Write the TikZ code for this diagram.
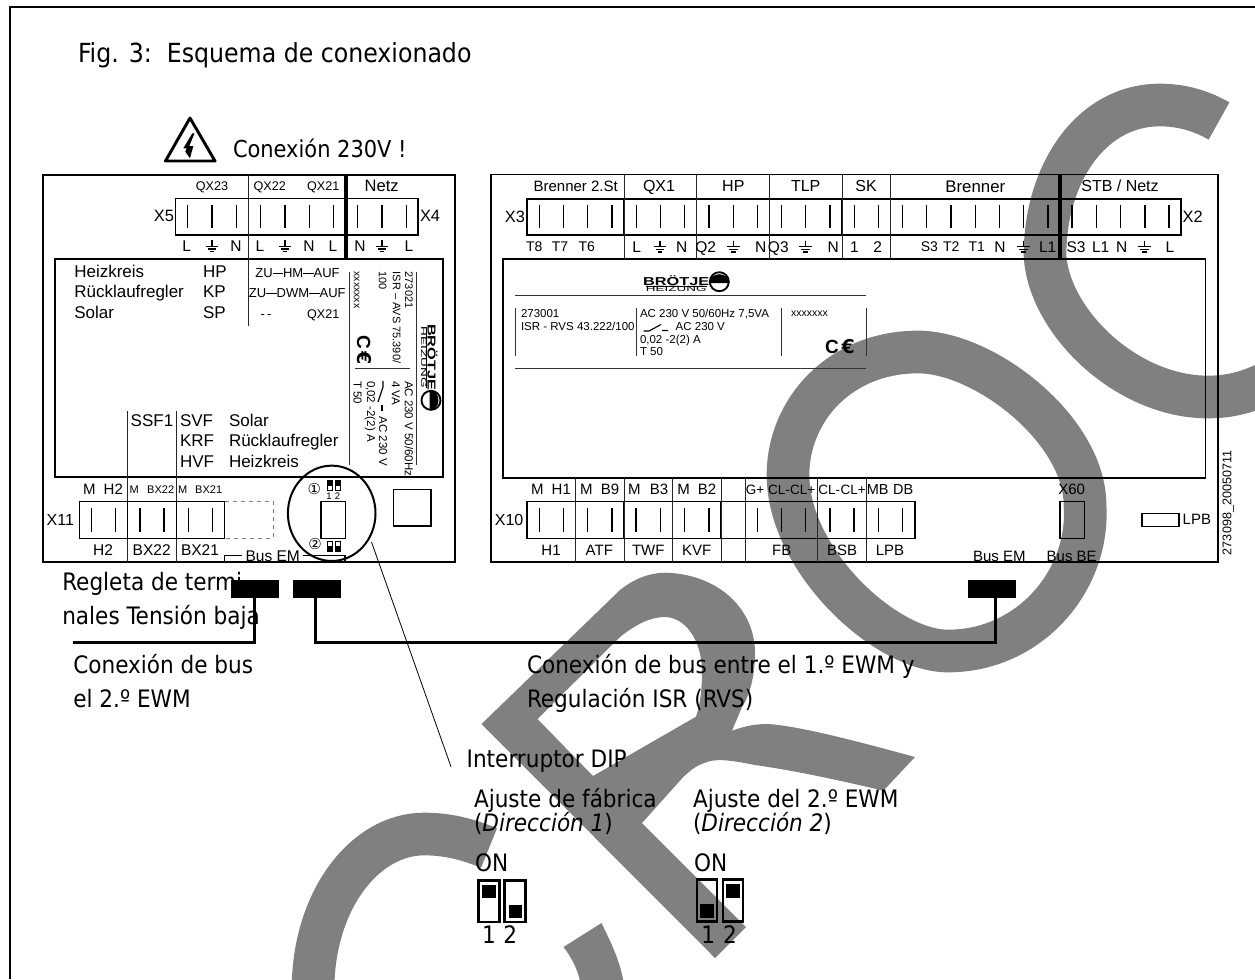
\documentclass[tikz,border=0pt]{standalone}
\usepackage{fontspec}
\usetikzlibrary{shapes.geometric,calc}
\setmainfont{Liberation Sans}
\newfontfamily\bodyf{DejaVu Sans Condensed}
\newfontfamily\symf{DejaVu Sans}
\newcounter{tn}
\newcommand\pxs[1]{\fontsize{\the\dimexpr#1pt*3/4\relax}{\the\dimexpr#1pt*9/10\relax}\selectfont}
% centred label, y = optical centre of the capitals
\newcommand\Tc[4]{\stepcounter{tn}\node[lab,anchor=base] (t\thetn) at ({#1},{#2+0.358*#3}) {\pxs{#3}#4};}
\newcommand\Tl[4]{\stepcounter{tn}\node[lab,anchor=base west] (t\thetn) at ({#1},{#2+0.358*#3}) {\pxs{#3}#4};}
\newcommand\Tr[4]{\stepcounter{tn}\node[lab,anchor=base east] (t\thetn) at ({#1},{#2+0.358*#3}) {\pxs{#3}#4};}
% text running downwards
\newcommand\Tv[4]{\stepcounter{tn}\node[lab,rotate=-90,anchor=west] (t\thetn) at ({#1},{#2}) {\pxs{#3}#4};}
% body font, y = baseline
\newcommand\Bt[4]{\stepcounter{tn}\node[lab,anchor=base west] (t\thetn) at ({#1},{#2}) {\bodyf\pxs{#3}#4};}
\newcommand\gnd[2]{\draw[pin] ({#1},{#2-6}) -- ({#1},{#2});
 \draw[pin] ({#1-6.3},{#2}) -- ({#1+6.3},{#2});
 \draw[pin] ({#1-4.3},{#2+2.7}) -- ({#1+4.3},{#2+2.7});
 \draw[pin] ({#1-2.3},{#2+5.3}) -- ({#1+2.3},{#2+5.3});}
\newcommand\pins[3]{\foreach \px in {#3} {\draw[pin] (\px,#1) -- (\px,#2);}}
\newcommand\logo{%
 \stepcounter{tn}\node[lab,anchor=base,transform shape,xscale=1.42] (t\thetn) at (30.5,8.3) {\bfseries\pxs{11.5}BRÖTJE};
 \stepcounter{tn}\node[lab,anchor=base,transform shape,xscale=1.75] (t\thetn) at (30.5,15) {\pxs{7.7}HEIZUNG};
 \draw[line width=0.5pt] (0,9.3) -- (61,9.3);
 \draw[line width=1.4pt,fill=white] (73.6,5) circle (9.5);
 \fill (73.6-10,5+1.5) -- (73.6+10,5+1.5) arc (0:-180:10 and 9) -- cycle;
 \fill[white] (73.6-6.5,6.8) rectangle (73.6+6.5,9);
}
\newcommand\ce[3]{\stepcounter{tn}\node[lab,rotate=#3] (t\thetn) at (#1,#2) {\pxs{19}\bfseries C\kern2pt\symf\bfseries €};}
\tikzset{
 x=0.75pt,y=-0.75pt,
 lab/.style={inner sep=0pt,outer sep=0pt,text=black},
 box/.style={line width=1.2pt,draw=black},
 term/.style={line width=1.1pt,draw=black},
 sep/.style={line width=0.55pt,draw=black!85},
 pin/.style={line width=0.85pt,draw=black},
 platel/.style={line width=0.5pt,draw=black!80},
 wire/.style={line width=2.1pt,draw=black},
 busbar/.style={fill=black,inner sep=0pt,outer sep=0pt,minimum width=36pt,minimum height=13.3pt},
 dipsw/.style={line width=1.9pt,draw=black},
 wm/.style={draw=wmgray,line width=32pt,line cap=butt,line join=round},
}
\definecolor{wmgray}{HTML}{808080}
\begin{document}
\begin{tikzpicture}
\useasboundingbox (0,0) rectangle (1255,979);
\begin{scope}
\clip (0,0) rectangle (1255,979);
% watermark
\draw[wm] (1219,121) .. controls (1200,110) and (1180,105) .. (1160,105) .. controls (1090,105) and (1045,175) .. (1045,255) .. controls (1048,320) and (1125,397) .. (1208,397) .. controls (1228,397) and (1245,393) .. (1265,384);
\draw[wm] (918,352) .. controls (985,352) and (1085,430) .. (1085,505) .. controls (1090,580) and (1030,651) .. (948,651) .. controls (885,651) and (788,560) .. (788,475) .. controls (788,410) and (840,352) .. (918,352) -- cycle;
\fill[wmgray,even odd rule] (481.5,724) -- (620,590) .. controls (635,578) and (650,572.7) .. (667,572.7) .. controls (720,575) and (755,610) .. (755,653) .. controls (755,675) and (750,695) .. (742,707) -- (732,730.7)
 .. controls (745,726) and (755,724) .. (767.7,724) .. controls (800,726) and (860,742) .. (915,757) -- (883.4,790.7) .. controls (830,778) and (790,770) .. (755,765) .. controls (730,760) and (715,758) .. (704.5,763) .. controls (695,766) and (690,771) .. (683.5,776.7) -- (642,823) -- (746,927) -- (715,958) -- cycle
 (537.5,719) -- (620,637) .. controls (635,625) and (650,617) .. (664.6,617) .. controls (685,617) and (702,640) .. (702,672) .. controls (702,690) and (700,705) .. (696,716.7) -- (593,776) -- cycle;
\draw[wm] (489,848) .. controls (465,838) and (445,834) .. (424,834) .. controls (365,834) and (313,900) .. (313,990);
\fill[wmgray] (601.5,923) .. controls (612,945) and (620,960) .. (624,985) -- (581,985) .. controls (578,970) and (572,958) .. (563.5,947) -- cycle;
% page frame
\draw[line width=1.5pt] (10,979) -- (10,7) -- (1255,7);
\end{scope}
% headings
\Bt{78}{62}{26.3}{Fig. 3:\ \ Esquema de conexionado}
\Bt{233}{157}{23.3}{Conexión 230V !}
% warning sign
\draw[line width=2.2pt,line join=round] (190,118) -- (215,161) -- (165.5,161) -- cycle;
\fill (192.3,133.3) -- (183.3,148.3) -- (186.7,148.3) -- (185.3,151.7) -- (190,158.3) -- (193.3,146) -- (189.3,146) -- (194.5,133.3) -- cycle;
% ===== left unit =====
\draw[box] (42.7,175) rectangle (455,562);
\draw[box] (55,259) rectangle (442.7,477);
\draw[term] (175.7,198.7) rectangle (418,235);
\draw[term] (248.3,198.7) -- (248.3,235);
\draw[sep] (248.3,175) -- (248.3,325.7);
\draw[line width=2.7pt] (345.7,175) -- (345.7,259);
\pins{205}{228}{187.7,212,236.3,260.7,285,309.3,333.7,357.7,382,406.3}
\Tc{212}{185.7}{12.6}{QX23}\Tc{269.7}{185.7}{12.6}{QX22}\Tc{323.3}{185.7}{12.6}{QX21}\Tc{381.7}{186}{16.5}{Netz}
\Tr{174}{216}{16.4}{X5}\Tl{420}{216}{16.4}{X4}
\Tc{186.7}{246.3}{15.5}{L}\gnd{212}{246.3}\Tc{236}{246.3}{15.5}{N}\Tc{260}{246.3}{15.5}{L}\gnd{285}{246.3}\Tc{309}{246.3}{15.5}{N}\Tc{333}{246.3}{15.5}{L}\Tc{360}{246.3}{15.5}{N}\gnd{382}{246.3}\Tc{409}{246.3}{15.5}{L}
\Tl{74.3}{271}{17}{Heizkreis}\Tl{74.3}{291.7}{17}{Rücklaufregler}\Tl{74.3}{312.3}{17}{Solar}
\Tl{203}{271}{17}{HP}\Tl{203}{291.7}{17}{KP}\Tl{203}{312.3}{17}{SP}
\Tc{297.5}{272.7}{13}{ZU\rule[0.3em]{0.8em}{0.6pt}HM\rule[0.3em]{0.8em}{0.6pt}AUF}
\Tc{297.3}{293.3}{13}{ZU\rule[0.3em]{0.8em}{0.6pt}DWM\rule[0.3em]{0.8em}{0.6pt}AUF}
\Tc{266}{314}{13}{-\,-}\Tc{323.3}{314}{12.6}{QX21}
% rotated rating plate
\draw[platel] (349.3,271.7) -- (349.3,465) (416,271.7) -- (416,465) (355,368.3) -- (410,368.3);
\Tv{409}{271.7}{11}{273021}\Tv{396.7}{271.7}{11}{ISR -- AVS 75.390/}\Tv{382.7}{271.7}{11}{100}\Tv{356.7}{271.7}{10.5}{xxxxxxx}
\ce{364}{350}{-90}
\Tv{409}{381}{11.5}{AC 230 V 50/60Hz}\Tv{395.7}{381}{11.5}{4 VA}\Tv{383}{416.7}{11.5}{AC 230 V}\Tv{370}{381}{11.5}{0,02 -2(2) A}\Tv{357.7}{381}{11.5}{T 50}
\draw[pin] (383,381) -- (383,387) -- (378,402);
\draw[pin] (382,405) -- (382,411);
\begin{scope}[shift={(436,326.7)},rotate=-90]\logo\end{scope}
\draw[sep] (127.7,411) -- (127.7,562) (176.3,411) -- (176.3,562);
\Tl{130.7}{420}{17}{SSF1}\Tl{180}{420}{17}{SVF}\Tl{229}{420}{17}{Solar}
\Tl{180}{440.7}{17}{KRF}\Tl{229}{440.7}{17}{Rücklaufregler}
\Tl{180}{461.3}{17}{HVF}\Tl{229}{461.3}{17}{Heizkreis}
\draw[term] (79.3,501.7) rectangle (224.7,538.3);
\draw[term] (127.7,501.7) -- (127.7,538.3) (176.3,501.7) -- (176.3,538.3);
\draw[line width=0.6pt,draw=black!50,dashed] (224.7,501.7) -- (273,501.7) -- (273,538.3) -- (224.7,538.3);
\pins{508.3}{531.7}{91.3,115.7,140,164,188.3,212.3}
\Tr{74}{520}{16}{X11}
\Tc{89.3}{489.3}{15}{M}\Tc{113.3}{489.3}{15}{H2}\Tc{134.3}{489.3}{11}{M}\Tc{160.7}{489.3}{11}{BX22}\Tc{182.7}{489.3}{11}{M}\Tc{208.7}{489.3}{11}{BX21}
\Tc{103}{550}{15.5}{H2}\Tc{151.7}{550}{15.5}{BX22}\Tc{200}{550}{15.5}{BX21}
\Tc{272.7}{555.7}{15.5}{Bus EM}
\draw[pin] (224.7,562) -- (224.7,555.7) -- (242.3,555.7) (303.3,555.7) -- (345,555.7) -- (345,562);
% DIP close-up
\node[ellipse,draw,line width=1.5pt,inner sep=0pt,minimum width=65.7pt,minimum height=71.5pt] (dipc) at (331.7,513.3) {};
\draw[term,line width=0.9pt] (321,501.7) rectangle (345.7,538.3);
\stepcounter{tn}\node[lab] (t\thetn) at (314.3,489.3) {\symf\pxs{15}①};
\stepcounter{tn}\node[lab] (t\thetn) at (315,544.3) {\symf\pxs{15}②};
\foreach \a/\b in {327/332,335.5/340.5} {
 \draw[line width=0.5pt] (\a,480.7) rectangle (\b,490);
 \fill (\a,480.7) rectangle (\b,486);
 \draw[line width=0.5pt] (\a,541.7) rectangle (\b,551);
 \fill (\a,545.5) rectangle (\b,551);
}
\Tc{329}{495.7}{9.5}{1}\Tc{337.5}{495.7}{9.5}{2}
\draw[box] (393.3,489.3) rectangle (431,526);
% ===== right unit =====
\draw[box] (490.7,174.3) rectangle (1217.7,562);
\draw[box] (502.7,259) rectangle (1205.3,477.7);
\draw[term] (527,199) rectangle (1181,235);
\foreach \x in {624,696.7,769.3,842,890.7} {\draw[term] (\x,199) -- (\x,235); \draw[sep] (\x,174.3) -- (\x,259);}
\draw[line width=3pt] (1060,174.3) -- (1060,259);
\pins{205}{228.3}{539.3,563.3,587.7,612,636.3,660.7,684.7,709,733.3,757.7,781.7,805.7,830,854.3,878.3,902.3,926.7,951,975.3,999.3,1023.7,1048,1072,1096.3,1120.7,1145,1169}
\Tc{575.7}{186}{15}{Brenner 2.St}\Tc{659}{186}{16}{QX1}\Tc{733.3}{186}{16}{HP}\Tc{805.7}{186}{16}{TLP}\Tc{866}{186}{16}{SK}\Tc{975.3}{186}{16.8}{Brenner}\Tc{1120}{186}{16}{STB / Netz}
\Tr{525}{216.7}{16.4}{X3}\Tl{1182.7}{216.7}{16.4}{X2}
\Tc{534.3}{246.7}{14}{T8}\Tc{560}{246.7}{14}{T7}\Tc{586.7}{246.7}{14}{T6}
\Tc{636.7}{246.7}{15.5}{L}\gnd{660}{246.7}\Tc{681.7}{246.7}{15.5}{N}
\Tc{705.7}{246.7}{15.5}{Q2}\gnd{733.3}{246.7}\Tc{760.7}{246.7}{15.5}{N}
\Tc{778.3}{246.7}{15.5}{Q3}\gnd{805.7}{246.7}\Tc{833.3}{246.7}{15.5}{N}
\Tc{854.3}{246.7}{15.5}{1}\Tc{877.7}{246.7}{15.5}{2}
\Tc{929.3}{246.7}{14}{S3}\Tc{951.3}{246.7}{14}{T2}\Tc{976.7}{246.7}{14}{T1}\Tc{1000}{246.7}{15.5}{N}\gnd{1023.7}{246.7}\Tc{1047.7}{246.7}{15.5}{L1}
\Tc{1076}{246.7}{15.5}{S3}\Tc{1100.7}{246.7}{15.5}{L1}\Tc{1121.7}{246.7}{15.5}{N}\gnd{1144.7}{246.7}\Tc{1170}{246.7}{15.5}{L}
% rating plate
\begin{scope}[shift={(645.7,276.7)}]\logo\end{scope}
\draw[platel] (515,295.3) -- (866,295.3) (515,368.7) -- (866,368.7);
\draw[platel] (515,307.7) -- (515,355.7) (636.7,307.7) -- (636.7,355.7) (781,307.7) -- (781,355.7) (866.7,307.7) -- (866.7,355.7);
\Tl{521}{313}{11.5}{273001}\Tl{521}{326}{11.5}{ISR - RVS 43.222/100}
\Tl{640}{313}{11.5}{AC 230 V 50/60Hz 7,5VA}\Tl{675.7}{326}{11.5}{AC 230 V}\Tl{640}{339}{11.5}{0,02 -2(2) A}\Tl{640}{351.7}{11.5}{T 50}
\draw[pin] (643.5,331) -- (649,331) -- (661,324.5) (662,330.5) -- (668,330.5);
\Tl{791}{313}{10.5}{xxxxxxx}
\ce{840}{346.7}{0}
\draw[term] (527,501.7) rectangle (915,538.3);
\foreach \x in {575.7,624,672.7,721,745.7,817.7,866.7} {\draw[term] (\x,501.7) -- (\x,538.3); \draw[sep] (\x,477.7) -- (\x,562);}
\pins{508.3}{531.7}{539.3,563.3,587.7,612,636,660.3,684.7,709,757.3,781.7,805.7,830,854,878.3,902.7}
\Tr{523.3}{519.3}{16}{X10}
\Tc{537.3}{489.3}{15}{M}\Tc{561.3}{489.3}{15}{H1}\Tc{586.3}{489.3}{15}{M}\Tc{610}{489.3}{15}{B9}\Tc{634.3}{489.3}{15}{M}\Tc{659}{489.3}{15}{B3}\Tc{683.7}{489.3}{15}{M}\Tc{707}{489.3}{15}{B2}
\Tc{755}{489.3}{13.5}{G+}\Tc{779}{489.3}{13.5}{CL-}\Tc{802.7}{489.3}{13.5}{CL+}\Tc{829.3}{489.3}{13.5}{CL-}\Tc{853.3}{489.3}{13.5}{CL+}\Tc{877.7}{489.3}{14.5}{MB}\Tc{903.3}{489.3}{14.5}{DB}
\Tc{551}{550}{15}{H1}\Tc{599.3}{550}{15}{ATF}\Tc{648.3}{550}{15}{TWF}\Tc{696.7}{550}{15}{KVF}\Tc{781.7}{550}{15}{FB}\Tc{842}{550}{15}{BSB}\Tc{890}{550}{15}{LPB}
\Tc{1071.7}{489.3}{15}{X60}
\draw[term] (1060,501.7) rectangle (1084.3,538.3);
\Tc{999.3}{555.7}{15}{Bus EM}\Tc{1071.7}{555.7}{15}{Bus BE}
\draw[term] (1142,513.7) rectangle (1179,526.7);
\Tl{1182.7}{519.3}{15}{LPB}
\stepcounter{tn}\node[lab,rotate=90,anchor=west] (t\thetn) at (1228.3,555) {\pxs{12.6}273098\_20050711};
% ===== captions and bus wires =====
\Bt{62.3}{590}{24}{Regleta de termi}
\Bt{62.3}{624}{24}{nales Tensión baja}
\Bt{73.3}{673.3}{24}{Conexión de bus}
\Bt{73.3}{707.3}{24}{el 2.º EWM}
\Bt{527}{673.3}{24}{Conexión de bus entre el 1.º EWM y}
\Bt{527}{707.3}{24}{Regulación ISR (RVS)}
\node[busbar] (bar1) at (254.5,588.85) {};
\node[busbar] (bar2) at (317,588.85) {};
\node[busbar] (bar3) at (992,588.85) {};
\coordinate (w1) at (73.3,642.3);
\coordinate (w2) at (315.3,642.3);
\coordinate (w3) at (995.3,642.3);
\draw[wire] (bar1.south) |- (w1);
\draw[wire,line join=miter] (bar2.south -| w2) -- (w2) -- (w3) -- (bar3.south -| w3);
\coordinate (dipa) at (371.5,542);
\coordinate (dipb) at (451,766.7);
\draw[line width=0.6pt] (dipa) -- (dipb);
\Bt{466.7}{767.7}{24}{Interruptor DIP}
\Bt{474}{807.3}{24}{Ajuste de fábrica}
\Bt{474}{831.7}{24}{(\textit{Dirección 1})}
\Bt{693}{807.3}{24}{Ajuste del 2.º EWM}
\Bt{693}{831.7}{24}{(\textit{Dirección 2})}
\Bt{475}{871}{24}{ON}
\Bt{694}{871}{24}{ON}
\draw[dipsw] (478.6,880.5) rectangle (499.7,922);
\draw[dipsw] (504.6,880.5) rectangle (525.4,922);
\fill (482.3,885) rectangle (496,898.3);
\fill (509,905) rectangle (522,918.3);
\draw[dipsw] (697,879.5) rectangle (717,921.5);
\draw[dipsw] (723,879.5) rectangle (743,921.5);
\fill (700,904) rectangle (714.3,918.3);
\fill (726,884) rectangle (740,897.7);
\stepcounter{tn}\node[lab,anchor=base] (t\thetn) at (489,943.3) {\bodyf\pxs{24}1};
\stepcounter{tn}\node[lab,anchor=base] (t\thetn) at (510.3,943.3) {\bodyf\pxs{24}2};
\stepcounter{tn}\node[lab,anchor=base] (t\thetn) at (708.3,943.3) {\bodyf\pxs{24}1};
\stepcounter{tn}\node[lab,anchor=base] (t\thetn) at (730,943.3) {\bodyf\pxs{24}2};
\end{tikzpicture}
\end{document}
